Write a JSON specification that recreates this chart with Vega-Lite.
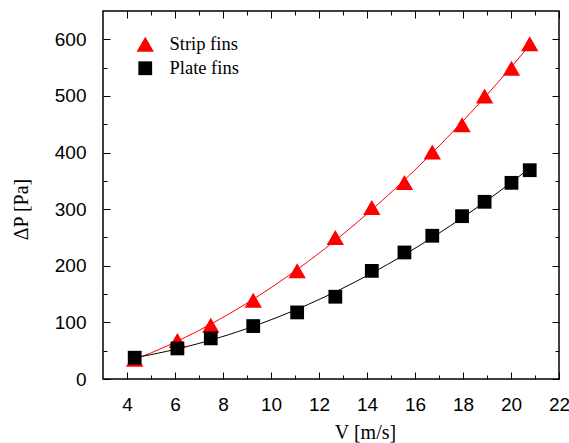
{
  "$schema": "https://vega.github.io/schema/vega-lite/v6.json",
  "width": 456,
  "height": 368,
  "autosize": "none",
  "padding": {"left": 103, "top": 11, "right": 10, "bottom": 64},
  "background": "white",
  "config": {
    "view": {"stroke": "black", "strokeWidth": 1.5},
    "axis": {
      "domain": false,
      "grid": false,
      "tickColor": "black",
      "tickWidth": 1,
      "labelFont": "Liberation Sans",
      "labelFontSize": 19,
      "labelColor": "black",
      "titleFont": "Liberation Serif",
      "titleFontSize": 20,
      "titleFontWeight": "normal",
      "titleColor": "black"
    },
    "legend": {
      "orient": "none",
      "legendX": 33,
      "legendY": 24,
      "padding": 0,
      "labelFont": "Liberation Serif",
      "labelFontSize": 18.5,
      "labelColor": "black",
      "labelOffset": 15,
      "symbolStrokeWidth": 0,
      "rowPadding": 5
    }
  },
  "data": {
    "values": [
      {"V": 4.32, "P": 35, "series": "Strip fins"},
      {"V": 6.10, "P": 68, "series": "Strip fins"},
      {"V": 7.49, "P": 95, "series": "Strip fins"},
      {"V": 9.26, "P": 139, "series": "Strip fins"},
      {"V": 11.09, "P": 191, "series": "Strip fins"},
      {"V": 12.68, "P": 250, "series": "Strip fins"},
      {"V": 14.20, "P": 303, "series": "Strip fins"},
      {"V": 15.56, "P": 347, "series": "Strip fins"},
      {"V": 16.72, "P": 401, "series": "Strip fins"},
      {"V": 17.96, "P": 449, "series": "Strip fins"},
      {"V": 18.90, "P": 500, "series": "Strip fins"},
      {"V": 20.02, "P": 549, "series": "Strip fins"},
      {"V": 20.78, "P": 592, "series": "Strip fins"},
      {"V": 4.32, "P": 37.6, "series": "Plate fins"},
      {"V": 6.10, "P": 54, "series": "Plate fins"},
      {"V": 7.49, "P": 71.8, "series": "Plate fins"},
      {"V": 9.26, "P": 93.5, "series": "Plate fins"},
      {"V": 11.09, "P": 117.6, "series": "Plate fins"},
      {"V": 12.68, "P": 145.3, "series": "Plate fins"},
      {"V": 14.20, "P": 191, "series": "Plate fins"},
      {"V": 15.56, "P": 223.5, "series": "Plate fins"},
      {"V": 16.72, "P": 253, "series": "Plate fins"},
      {"V": 17.96, "P": 287.6, "series": "Plate fins"},
      {"V": 18.90, "P": 313, "series": "Plate fins"},
      {"V": 20.02, "P": 346.5, "series": "Plate fins"},
      {"V": 20.78, "P": 368.8, "series": "Plate fins"}
    ]
  },
  "layer": [
    {
      "transform": [
        {"filter": "datum.series === 'Strip fins'"},
        {"regression": "P", "on": "V", "method": "poly", "order": 2}
      ],
      "mark": {"type": "line", "strokeWidth": 1, "color": "#ff0000", "clip": true},
      "encoding": {
        "x": {
          "field": "V", "type": "quantitative",
          "scale": {"domain": [3, 22], "nice": false, "zero": false},
          "axis": {
            "orient": "bottom",
            "title": "V [m/s]",
            "values": [4,5,6,7,8,9,10,11,12,13,14,15,16,17,18,19,20,21,22],
            "tickSize": {"condition": {"test": "datum.value % 2 === 0", "value": -7}, "value": -4},
            "labelExpr": "datum.value % 2 === 0 ? datum.label : ''",
            "labelFontSize": 19,
            "labelPadding": 23,
            "labelFlush": false,
            "titleX": 262,
            "titleY": 59,
            "titleBaseline": "alphabetic"
          }
        },
        "y": {
          "field": "P", "type": "quantitative",
          "scale": {"domain": [0, 650], "nice": false},
          "axis": {
            "orient": "left",
            "title": "ΔP [Pa]",
            "values": [0,50,100,150,200,250,300,350,400,450,500,550,600],
            "tickSize": {"condition": {"test": "datum.value % 100 === 0", "value": -7}, "value": -4},
            "labelExpr": "datum.value % 100 === 0 ? datum.label : ''",
            "labelFontSize": 19,
            "labelPadding": 24,
            "labelFlush": false,
            "titleAngle": -90,
            "titleAlign": "center",
            "titleBaseline": "alphabetic",
            "titleX": -76,
            "titleY": 198
          }
        }
      }
    },
    {
      "transform": [
        {"filter": "datum.series === 'Plate fins'"},
        {"regression": "P", "on": "V", "method": "poly", "order": 2}
      ],
      "mark": {"type": "line", "strokeWidth": 1, "color": "#000000", "clip": true},
      "encoding": {
        "x": {"field": "V", "type": "quantitative", "axis": null},
        "y": {"field": "P", "type": "quantitative", "axis": null}
      }
    },
    {
      "mark": {"type": "point", "filled": true, "opacity": 1, "strokeWidth": 0},
      "encoding": {
        "x": {
          "field": "V", "type": "quantitative",
          "axis": {
            "orient": "top",
            "title": null,
            "labels": false,
            "values": [4,5,6,7,8,9,10,11,12,13,14,15,16,17,18,19,20,21,22],
            "tickSize": {"condition": {"test": "datum.value % 2 === 0", "value": -7}, "value": -4}
          }
        },
        "y": {
          "field": "P", "type": "quantitative",
          "axis": {
            "orient": "right",
            "title": null,
            "labels": false,
            "values": [0,50,100,150,200,250,300,350,400,450,500,550,600],
            "tickSize": {"condition": {"test": "datum.value % 100 === 0", "value": -7}, "value": -4}
          }
        },
        "color": {
          "field": "series", "type": "nominal",
          "scale": {"domain": ["Strip fins", "Plate fins"], "range": ["#ff0000", "#000000"]},
          "legend": {"title": null}
        },
        "shape": {
          "field": "series", "type": "nominal",
          "scale": {"domain": ["Strip fins", "Plate fins"], "range": ["triangle-up", "square"]},
          "legend": {"title": null}
        },
        "size": {
          "field": "series", "type": "nominal",
          "scale": {"domain": ["Strip fins", "Plate fins"], "range": [300, 190]},
          "legend": {"title": null}
        }
      }
    }
  ],
  "resolve": {"axis": {"x": "independent", "y": "independent"}}
}
